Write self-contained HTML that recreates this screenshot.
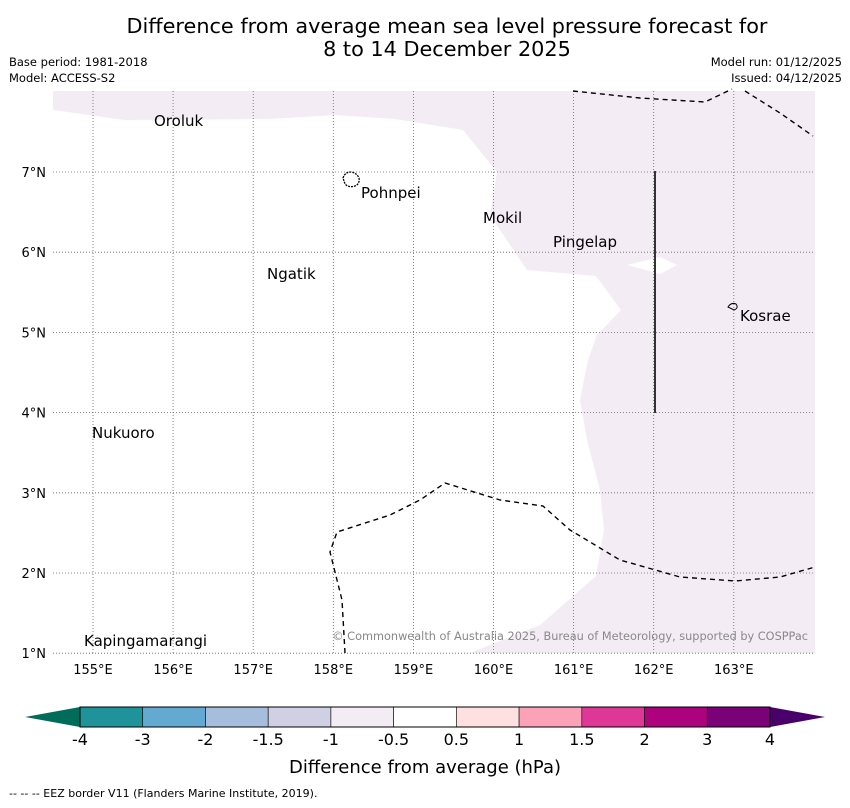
<!DOCTYPE html>
<html><head><meta charset="utf-8"><style>
body{margin:0;background:#fff;font-family:"DejaVu Sans","Liberation Sans",sans-serif;}
svg text{font-family:"DejaVu Sans","Liberation Sans",sans-serif;}
</style></head><body>
<svg id="c" width="850" height="804" xmlns="http://www.w3.org/2000/svg">
<text x="447" y="33" font-size="20.8" text-anchor="middle">Difference from average mean sea level pressure forecast for</text>
<text x="447" y="56" font-size="20.8" text-anchor="middle">8 to 14 December 2025</text>
<text x="9" y="66" font-size="11.5">Base period: 1981-2018</text>
<text x="9" y="82" font-size="11.5">Model: ACCESS-S2</text>
<text x="842" y="66" font-size="11.5" text-anchor="end">Model run: 01/12/2025</text>
<text x="842" y="82" font-size="11.5" text-anchor="end">Issued: 04/12/2025</text>
<g id="map">
<polygon fill="#f4ecf5" points="53,91 53,110 125,120 270,119 335,115 395,119 463,130 497,172 490,215 527,270 596,276 621,310 597,335 588,360 580,400 587,440 600,490 604,530 596,576 540,625 470,653 815,653 815,91"/>
<polygon fill="#fff" points="627,265 660,257 677,265 660,274"/>
<g id="grid" stroke="#666" stroke-width="0.8" stroke-dasharray="1,2"></g>
<line x1="655" y1="171" x2="655" y2="413" stroke="#333" stroke-width="2"/>
<polyline fill="none" stroke="#000" stroke-width="1.4" stroke-dasharray="5,4" points="573,91 640,98 705,102 732,89"/>
<polyline fill="none" stroke="#000" stroke-width="1.4" stroke-dasharray="5,4" points="745,91 780,113 813,136"/>
<polyline fill="none" stroke="#000" stroke-width="1.4" stroke-dasharray="5,4" points="345,653 342,600 330,552 337,532 390,515 420,500 445,483 500,500 543,506 570,530 620,560 680,577 735,581 780,577 815,567"/>
<path d="M343,178 q2,-6 8,-6 q6,1 8,6 q1,6 -4,8 q-6,2 -10,-2 z" fill="none" stroke="#000" stroke-width="1.3" stroke-dasharray="2,1"/>
<path d="M728,307 q3,-5 8,-3 q3,4 -2,6 z" fill="none" stroke="#000" stroke-width="1"/>
<g font-size="15">
<text x="154" y="126">Oroluk</text>
<text x="361" y="198">Pohnpei</text>
<text x="483" y="223">Mokil</text>
<text x="553" y="247">Pingelap</text>
<text x="267" y="279">Ngatik</text>
<text x="740" y="321">Kosrae</text>
<text x="92" y="438">Nukuoro</text>
<text x="84" y="646">Kapingamarangi</text>
</g>
<text x="808" y="640" font-size="11.3" fill="#888" text-anchor="end">© Commonwealth of Australia 2025, Bureau of Meteorology, supported by COSPPac</text>
<g id="xt" font-size="13" text-anchor="middle"></g>
<g id="yt" font-size="13" text-anchor="end"></g>
</g>
<g id="cb"></g>
<text x="425" y="773" font-size="18" text-anchor="middle">Difference from average (hPa)</text>
<text x="9" y="797" font-size="11">--  --  -- EEZ border V11 (Flanders Marine Institute, 2019).</text>
</svg>
<script>
const lonTicks=[155,156,157,158,159,160,161,162,163];
const latTicks=[7,6,5,4,3,2,1];
const cbBounds=["-4","-3","-2","-1.5","-1","-0.5","0.5","1","1.5","2","3","4"];
const cbColors=["#1f9399","#64a9d1","#a7bddd","#cfd0e4","#f4ecf5","#ffffff","#fee0e0","#fba2b8","#de3797","#ae017e","#7a0177"];
const NS="http://www.w3.org/2000/svg";
const xs=lon=>93+(lon-155)*80.1;
const ys=lat=>172+(7-lat)*80.2;
function mk(t,a,p){const e=document.createElementNS(NS,t);for(const k in a)e.setAttribute(k,a[k]);p.appendChild(e);return e;}
const grid=document.getElementById('grid'),xt=document.getElementById('xt'),yt=document.getElementById('yt');
lonTicks.forEach(v=>{const l=mk('line',{x1:xs(v),x2:xs(v),y1:91,y2:653},grid);


const t=mk('text',{x:xs(v),y:674},xt);t.textContent=v+'°E';

});
latTicks.forEach(v=>{const l=mk('line',{x1:53,x2:815,y1:ys(v),y2:ys(v)},grid);


const t=mk('text',{x:46,y:ys(v)+5},yt);t.textContent=v+'°N';

});
const cb=document.getElementById('cb');const x0=80,x1=770,y0=707,h=20,w=(x1-x0)/cbColors.length;
const lt=mk('polygon',{points:`25,717 ${x0},${y0} ${x0},${y0+h}`,fill:'#016c59'},cb);


const rt=mk('polygon',{points:`825,717 ${x1},${y0} ${x1},${y0+h}`,fill:'#49006a'},cb);


cbColors.forEach((c,i)=>{const r=mk('rect',{x:x0+i*w,y:y0,width:w,height:h,fill:c,stroke:'#000','stroke-width':0.6},cb);

});
mk('rect',{x:x0,y:y0,width:x1-x0,height:h,fill:'none',stroke:'#000','stroke-width':1},cb);
cbBounds.forEach((b,i)=>{const t=mk('text',{x:x0+i*w,y:745,'font-size':16,'text-anchor':'middle'},cb);t.textContent=b;

});
</script>
</body></html>
